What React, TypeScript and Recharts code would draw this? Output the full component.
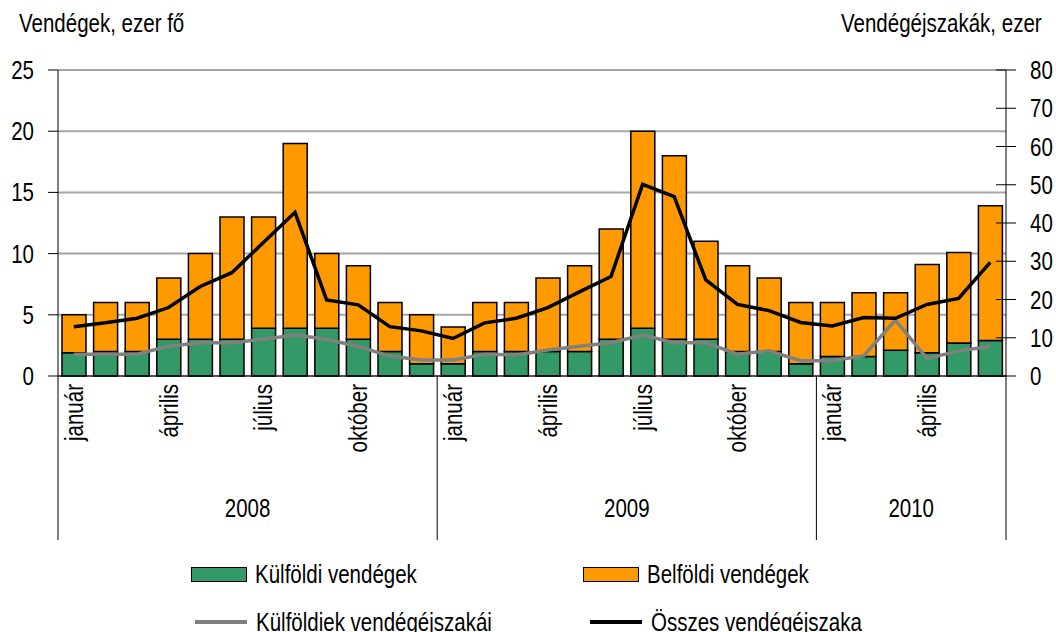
import { ComposedChart, Bar, Line, XAxis, YAxis, CartesianGrid } from "recharts"

const years = ["2008", "2009", "2010"]
const monthsPerYear = [12, 12, 6]
const monthNames = [
  "január", "február", "március", "április", "május", "június",
  "július", "augusztus", "szeptember", "október", "november", "december",
]
const shownMonths = ["január", "április", "július", "október"]

// ezer fő
const kulfoldiVendegek = [
  1.9, 2, 2, 3, 3, 3, 3.9, 3.9, 3.9, 3, 2, 1,
  1, 2, 2, 2, 2, 3, 3.9, 3, 3, 2, 2, 1,
  1.6, 1.6, 2.1, 1.9, 2.7, 2.9,
]
const osszesVendegek = [
  5, 6, 6, 8, 10, 13, 13, 19, 10, 9, 6, 5,
  4, 6, 6, 8, 9, 12, 20, 18, 11, 9, 8, 6,
  6, 6.8, 6.8, 9.1, 10.1, 13.9,
]
// ezer vendégéjszaka
const kulfoldiEjszakak = [
  5.7, 5.7, 5.7, 7.8, 8.7, 8.7, 9.6, 10.7, 9.6, 7.7, 5.2, 4.2,
  4.2, 5.7, 5.5, 6.8, 7.8, 8.7, 10.7, 8.7, 8.7, 5.7, 6.6, 4.0,
  4.0, 5.3, 14.6, 4.6, 6.5, 7.8,
]
const osszesEjszakak = [
  12.9, 13.9, 15.1, 17.9, 23.4, 27.0, 34.9, 42.8, 19.9, 18.6, 12.9, 11.8,
  9.8, 13.9, 15.1, 17.9, 22.0, 26.0, 50.1, 46.9, 25.1, 18.7, 17.1, 14.0,
  13.1, 15.3, 15.1, 18.7, 20.3, 29.7,
]

const leftTicks = [0, 5, 10, 15, 20, 25]
const rightTicks = [0, 10, 20, 30, 40, 50, 60, 70, 80]

const W = 1056
const H = 632
const LEFT_W = 58
const RIGHT_W = 50
const PLOT_W = W - LEFT_W - RIGHT_W
const FONT = "'Liberation Sans', Arial, sans-serif"
const FS = 25
const SX = 0.82 // squeeze to mimic Arial Narrow

const data: any[] = []
years.forEach((year, yi) => {
  for (let m = 0; m < monthsPerYear[yi]; m++) {
    const i = data.length
    data.push({
      key: `${year}-${m + 1}`,
      year,
      monthIndex: m,
      month: monthNames[m],
      kulfoldi: kulfoldiVendegek[i],
      belfoldi: +(osszesVendegek[i] - kulfoldiVendegek[i]).toFixed(2),
      kulfoldiEj: kulfoldiEjszakak[i],
      osszesEj: osszesEjszakak[i],
    })
  }
})

const NarrowText = ({ x, y, anchor, rotate = 0, children }: any) => (
  <text
    transform={`translate(${x} ${y}) rotate(${rotate}) scale(${SX} 1)`}
    x={0}
    y={0}
    dy="0.36em"
    textAnchor={anchor}
    fontSize={FS}
    fontFamily={FONT}
    fill="#000"
  >
    {children}
  </text>
)

const MonthTick = (props: any) => {
  const { x, y, index } = props
  const row = data[index]
  if (!row) return null
  const band = PLOT_W / data.length
  const yi = years.indexOf(row.year)
  const label = shownMonths.includes(row.month) ? row.month : ""
  return (
    <g>
      {label && (
        <NarrowText x={x} y={y + 8} rotate={-90} anchor="end">
          {label}
        </NarrowText>
      )}
      {row.monthIndex === 0 && (
        <>
          <line x1={x - band / 2} x2={x - band / 2} y1={y} y2={y + 164} stroke="#000" strokeWidth={1} />
          <NarrowText x={x - band / 2 + (monthsPerYear[yi] * band) / 2} y={y + 132} anchor="middle">
            {row.year}
          </NarrowText>
        </>
      )}
      {index === data.length - 1 && (
        <line x1={x + band / 2} x2={x + band / 2} y1={y} y2={y + 164} stroke="#000" strokeWidth={1} />
      )}
    </g>
  )
}

const LeftTick = (props: any) => {
  const { x, y, payload } = props
  return (
    <NarrowText x={x} y={y} anchor="end">
      {payload.value}
    </NarrowText>
  )
}

const RightTick = (props: any) => {
  const { x, y, payload } = props
  return (
    <g>
      <line x1={x - 34} x2={x - 14} y1={y} y2={y} stroke="#000" strokeWidth={1} />
      <NarrowText x={x} y={y} anchor="start">
        {payload.value}
      </NarrowText>
    </g>
  )
}

const legendItems = [
  { name: "Külföldi vendégek", color: "#339966", kind: "box", left: 191, top: 574 },
  { name: "Belföldi vendégek", color: "#FF9900", kind: "box", left: 583, top: 574 },
  { name: "Külföldiek vendégéjszakái", color: "#808080", kind: "line", left: 195, top: 622 },
  { name: "Összes vendégéjszaka", color: "#000000", kind: "line", left: 590, top: 622 },
]

const narrowStyle = (origin: string): any => ({
  display: "inline-block",
  transform: `scaleX(${SX})`,
  transformOrigin: origin,
  whiteSpace: "nowrap",
})

export default function App() {
  return (
    <div style={{ position: "absolute", left: 0, top: 0, width: W, height: H, background: "#fff", fontFamily: FONT, overflow: "hidden" }}>
      <div style={{ position: "absolute", left: 19, top: 11, fontSize: FS, lineHeight: `${FS}px` }}>
        <span style={narrowStyle("left")}>Vendégek, ezer fő</span>
      </div>
      <div style={{ position: "absolute", right: 14, top: 11, fontSize: FS, lineHeight: `${FS}px`, textAlign: "right" }}>
        <span style={narrowStyle("right")}>Vendégéjszakák, ezer</span>
      </div>
      <ComposedChart
        width={W}
        height={H}
        data={data}
        margin={{ top: 70, right: 0, bottom: 86, left: 0 }}
        barSize={24}
      >
        <CartesianGrid yAxisId="left" vertical={false} stroke="#a6a6a6" strokeWidth={2} />
        <XAxis
          dataKey="key"
          interval={0}
          height={170}
          tickSize={0}
          tickMargin={0}
          tickLine={false}
          axisLine={{ stroke: "#000", strokeWidth: 1 }}
          tick={<MonthTick />}
        />
        <YAxis
          yAxisId="left"
          orientation="left"
          width={LEFT_W}
          domain={[0, 25]}
          ticks={leftTicks}
          interval={0}
          tickSize={10}
          tickMargin={14}
          axisLine={{ stroke: "#000" }}
          tickLine={{ stroke: "#000" }}
          tick={<LeftTick />}
        />
        <YAxis
          yAxisId="right"
          orientation="right"
          width={RIGHT_W}
          domain={[0, 80]}
          ticks={rightTicks}
          interval={0}
          tickSize={10}
          tickMargin={14}
          axisLine={{ stroke: "#000" }}
          tickLine={false}
          tick={<RightTick />}
        />
        <Bar yAxisId="left" dataKey="kulfoldi" name="Külföldi vendégek" stackId="v" fill="#339966" stroke="#000" strokeWidth={1.5} isAnimationActive={false} />
        <Bar yAxisId="left" dataKey="belfoldi" name="Belföldi vendégek" stackId="v" fill="#FF9900" stroke="#000" strokeWidth={1.5} isAnimationActive={false} />
        <Line yAxisId="right" dataKey="kulfoldiEj" name="Külföldiek vendégéjszakái" type="linear" stroke="#808080" strokeWidth={3.5} dot={false} isAnimationActive={false} />
        <Line yAxisId="right" dataKey="osszesEj" name="Összes vendégéjszaka" type="linear" stroke="#000" strokeWidth={3.5} dot={false} isAnimationActive={false} />
      </ComposedChart>
      {legendItems.map((it) => (
        <div key={it.name} style={{ position: "absolute", left: it.left, top: it.top - 14, height: 28, display: "flex", alignItems: "center", fontSize: FS, whiteSpace: "nowrap" }}>
          {it.kind === "box" ? (
            <span style={{ display: "inline-block", width: 54, height: 13, background: it.color, border: "1.5px solid #000", marginRight: 8 }} />
          ) : (
            <span style={{ display: "inline-block", width: 52, height: 4, background: it.color, marginRight: 9 }} />
          )}
          <span style={narrowStyle("left")}>{it.name}</span>
        </div>
      ))}
    </div>
  )
}
